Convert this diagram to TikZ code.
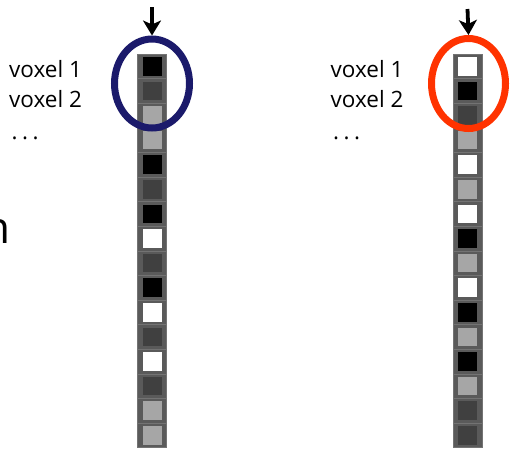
\documentclass[tikz,border=0pt]{standalone}
\usepackage{fontspec}
\setmainfont{Open Sans}
\usetikzlibrary{arrows.meta,shapes.geometric}
\definecolor{ringnavy}{RGB}{27,26,107}
\definecolor{ringred}{RGB}{255,51,0}
\definecolor{colgray}{RGB}{90,90,90}
\definecolor{vdark}{RGB}{64,64,64}
\definecolor{vlight}{RGB}{166,166,166}
\newcommand{\spaceddots}{.\kern4.5pt.\kern4.5pt.}
\tikzset{
  x=1pt, y=-1pt,
  label text/.style={font=\fontsize{22.5}{26}\selectfont, anchor=base west, inner sep=0pt},
  probe/.style={line width=3.8pt, -{Stealth[width=18pt,length=15pt,inset=4pt]}},
  ring/.style={line width=7pt},
  cellframe/.style={fill=colgray, draw=colgray!85!white, line width=0.6pt},
  voxel/.style={minimum width=19pt, minimum height=18.5pt, inner sep=0pt, draw=none},
}
\begin{document}
\begin{tikzpicture}
\useasboundingbox (0,0) rectangle (510,451);
\fill[white] (0,0) rectangle (510,451);

% partially visible title letter at the left edge
\node[font=\fontsize{44}{50}\selectfont, anchor=base east, inner sep=0pt] (cut) at (11,243) {n};

% voxel columns: cell colours top to bottom
\def\pitch{24.6}
\foreach \c [count=\i from 0] in {black,vdark,vlight,vlight,black,vdark,black,white,vdark,black,white,vdark,white,vdark,vlight,vlight}{
  \path[cellframe] (137.7,{54+\i*\pitch}) rectangle (166.3,{54+(\i+1)*\pitch});
  \node[voxel, fill=\c] (L\i) at (152,{54+(\i+0.5)*\pitch}) {};
}
\foreach \c [count=\i from 0] in {white,black,vdark,vlight,white,vlight,white,black,vlight,white,black,vlight,black,vlight,vdark,vdark}{
  \path[cellframe] (453.2,{54+\i*\pitch}) rectangle (481.8,{54+(\i+1)*\pitch});
  \node[voxel, fill=\c] (R\i) at (467.5,{54+(\i+0.5)*\pitch}) {};
}

% labels
\node[label text] (l1) at (9,77) {voxel 1};
\node[label text] (l2) at (9,107.5) {voxel 2};
\node[label text] (l3) at (11.5,139) {\spaceddots};
\node[label text] (r1) at (330.5,77) {voxel 1};
\node[label text] (r2) at (330.5,107.5) {voxel 2};
\node[label text] (r3) at (333,139) {\spaceddots};

% highlight rings
\node[ring, draw=ringnavy, ellipse, minimum width=75pt, minimum height=89pt, inner sep=0pt] (ringL) at (152,83.5) {};
\node[ring, draw=ringred, ellipse, minimum width=74pt, minimum height=90pt, inner sep=0pt] (ringR) at (468.5,83.5) {};

% probe arrows
\coordinate (aL) at (152,7);
\coordinate (aR) at (467.5,9);
\draw[probe] (aL) -- (ringL.north);
\draw[probe] (aR) -- (ringR.north);
\end{tikzpicture}
\end{document}
